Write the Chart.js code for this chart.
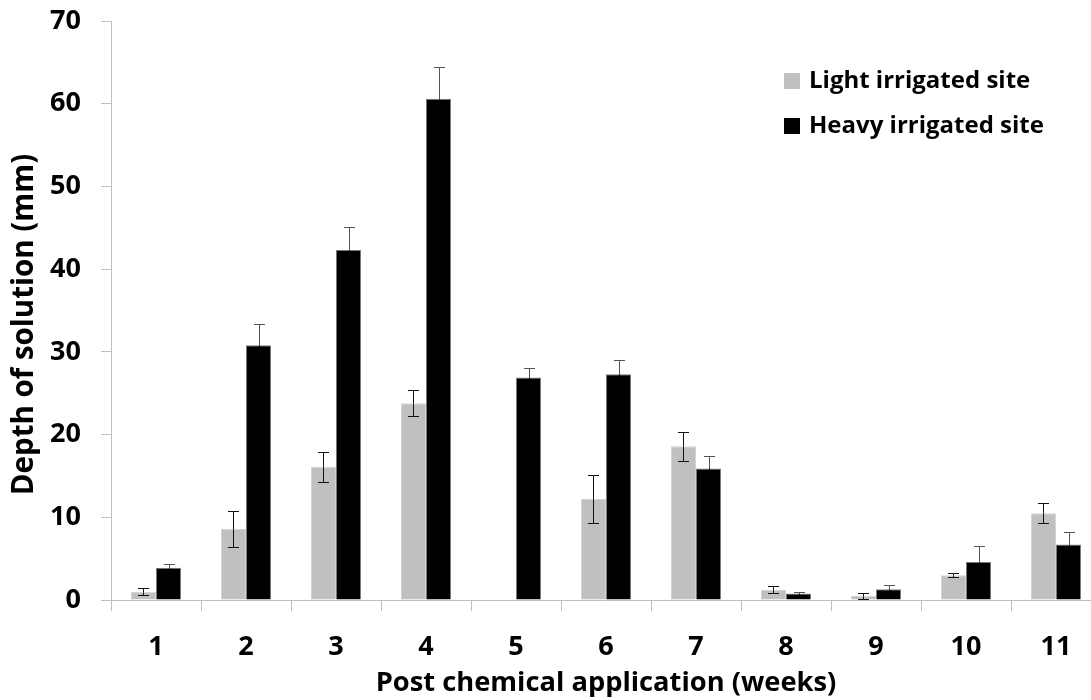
<!DOCTYPE html>
<html>
<head>
<meta charset="utf-8">
<title>Depth of solution</title>
<script src="https://cdn.jsdelivr.net/npm/chart.js@4/dist/chart.umd.min.js"></script>
<style>
  html, body { margin: 0; padding: 0; background: #ffffff; overflow: hidden; }
  canvas { display: block; }
</style>
</head>
<body>
<canvas id="chart" width="1102" height="700"></canvas>
<script>
// Weeks after the chemical application
const weeks = ['1', '2', '3', '4', '5', '6', '7', '8', '9', '10', '11'];

// Mean depth of solution (mm) and its error for each site
const lightValues = [1.0, 8.6, 16.1, 23.8, null, 12.2, 18.6, 1.25, 0.5, 3.0, 10.5];
const lightErrors = [0.42, 2.2, 1.8, 1.6, null, 2.9, 1.75, 0.45, 0.35, 0.25, 1.2];
const heavyValues = [3.9, 30.8, 42.3, 60.6, 26.9, 27.3, 15.9, 0.8, 1.3, 4.6, 6.7];
const heavyErrors = [0.5, 2.6, 2.8, 3.8, 1.1, 1.7, 1.5, 0.2, 0.55, 1.9, 1.5];

// Value axis range and step
const yMin = 0;
const yMax = 70;
const yStep = 10;

const seriesNames = ['Light irrigated site', 'Heavy irrigated site'];
const xTitle = 'Post chemical application (weeks)';
const yTitle = 'Depth of solution (mm)';

const FONT = '"Open Sans", "DejaVu Sans", sans-serif';

// Draws the +/- error whiskers over each bar
const errorBars = {
  id: 'errorBars',
  afterDatasetsDraw(chart) {
    const ctx = chart.ctx;
    const yScale = chart.scales.y;
    chart.data.datasets.forEach((ds, i) => {
      const meta = chart.getDatasetMeta(i);
      if (meta.hidden) return;
      ctx.save();
      ctx.lineWidth = 1;
      meta.data.forEach((bar, j) => {
        const v = ds.data[j];
        const e = ds.errors[j];
        if (v == null || e == null) return;
        const x = Math.round(bar.x) + 0.5;
        const mid = Math.round(yScale.getPixelForValue(v)) + 0.5;
        const top = Math.round(yScale.getPixelForValue(v + e)) + 0.5;
        const bottom = Math.round(yScale.getPixelForValue(Math.max(v - e, 0))) + 0.5;
        const half = 5.5;
        // part above the bar top
        ctx.strokeStyle = ds.errorColor;
        ctx.beginPath();
        ctx.moveTo(x, top);
        ctx.lineTo(x, mid);
        ctx.moveTo(x - half, top);
        ctx.lineTo(x + half, top);
        ctx.stroke();
        // part inside the bar
        ctx.strokeStyle = ds.innerErrorColor;
        ctx.beginPath();
        ctx.moveTo(x, mid);
        ctx.lineTo(x, bottom);
        ctx.moveTo(x - half, bottom);
        ctx.lineTo(x + half, bottom);
        ctx.stroke();
      });
      ctx.restore();
    });
  }
};

// Legend inside the plot area (top right) and the rotated value-axis title
const annotations = {
  id: 'annotations',
  afterDraw(chart) {
    const ctx = chart.ctx;
    const x0 = 784;
    const rows = [80.5, 125.5];
    ctx.save();
    ctx.font = 'bold 24px ' + FONT;
    ctx.textBaseline = 'middle';
    ctx.textAlign = 'left';
    chart.data.datasets.forEach((ds, i) => {
      const cy = rows[i];
      ctx.fillStyle = ds.backgroundColor;
      ctx.fillRect(x0, Math.round(cy - 8), 16, 16);
      ctx.fillStyle = '#000000';
      ctx.fillText(ds.label, x0 + 25, cy + 1);
    });
    ctx.restore();

    ctx.save();
    ctx.translate(25, 324.5);
    ctx.rotate(-Math.PI / 2);
    ctx.font = 'bold 29.5px ' + FONT;
    ctx.textAlign = 'center';
    ctx.textBaseline = 'middle';
    ctx.fillStyle = '#000000';
    ctx.fillText(yTitle, 0, 0);
    ctx.restore();
  }
};

new Chart(document.getElementById('chart'), {
  type: 'bar',
  data: {
    labels: weeks,
    datasets: [
      {
        label: seriesNames[0],
        data: lightValues,
        errors: lightErrors,
        errorColor: '#111111',
        innerErrorColor: '#111111',
        backgroundColor: '#c0c0c0',
        borderColor: '#d4d4d4',
        borderWidth: 1,
        categoryPercentage: 0.5556,
        barPercentage: 1.0
      },
      {
        label: seriesNames[1],
        data: heavyValues,
        errors: heavyErrors,
        errorColor: '#555555',
        innerErrorColor: '#000000',
        backgroundColor: '#000000',
        borderColor: '#7a7a7a',
        borderWidth: 1,
        categoryPercentage: 0.5556,
        barPercentage: 1.0
      }
    ]
  },
  options: {
    responsive: false,
    animation: false,
    layout: { padding: { top: 21, left: 0, right: 1, bottom: 0 } },
    plugins: {
      legend: { display: false },
      tooltip: { enabled: false }
    },
    scales: {
      x: {
        grid: {
          offset: true,
          drawOnChartArea: false,
          drawTicks: true,
          tickLength: 11,
          color: '#bfbfbf'
        },
        border: { display: true, color: '#bfbfbf', width: 1 },
        ticks: {
          color: '#000000',
          padding: 20,
          maxRotation: 0,
          font: { family: FONT, size: 27, weight: 'bold' }
        },
        title: {
          display: true,
          text: xTitle,
          color: '#000000',
          padding: { top: 0, bottom: 0 },
          font: { family: FONT, size: 27.3, weight: 'bold' }
        },
        afterFit(scale) {
          scale.height = 100;
          scale.paddingLeft = 0;
          scale.paddingRight = 0;
        }
      },
      y: {
        min: yMin,
        max: yMax,
        grid: {
          drawOnChartArea: false,
          drawTicks: true,
          tickLength: 10,
          color: '#bfbfbf'
        },
        border: { display: true, color: '#bfbfbf', width: 1 },
        ticks: {
          stepSize: yStep,
          color: '#000000',
          padding: 20,
          font: { family: FONT, size: 27, weight: 'bold' }
        },
        afterFit(scale) {
          scale.width = 111;
          scale.paddingTop = 0;
          scale.paddingBottom = 0;
        }
      }
    }
  },
  plugins: [errorBars, annotations]
});
</script>
</body>
</html>
